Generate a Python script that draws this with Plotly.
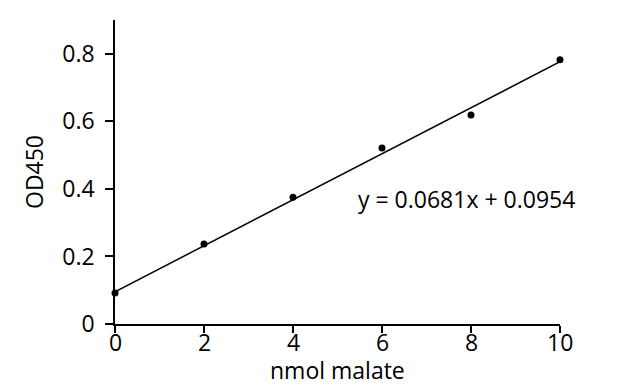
import plotly.graph_objects as go

nmol = [0, 2, 4, 6, 8, 10]
od450 = [0.092, 0.237, 0.375, 0.521, 0.619, 0.782]
slope = 0.0681
intercept = 0.0954
fit_x = [0, 10]
fit_y = [slope * x + intercept for x in fit_x]
x_ticks = [0, 2, 4, 6, 8, 10]
x_tick_labels = ["0", "2", "4", "6", "8", "10"]
y_ticks = [0, 0.2, 0.4, 0.6, 0.8]
y_tick_labels = ["0", "0.2", "0.4", "0.6", "0.8"]
x_title = "nmol malate"
y_title = "OD450"

FONT = "Open Sans, Liberation Sans, sans-serif"
FS = 23

fig = go.Figure()
fig.add_trace(go.Scatter(x=fit_x, y=fit_y, mode="lines",
                         line=dict(color="black", width=1.5), cliponaxis=False,
                         hoverinfo="skip"))
fig.add_trace(go.Scatter(x=nmol, y=od450, mode="markers",
                         marker=dict(color="black", size=7), cliponaxis=False))

fig.add_annotation(x=7.9, y=0.37, xref="x", yref="y",
                   text=f"y = {slope}x + {intercept}", showarrow=False,
                   xanchor="center", yanchor="middle",
                   font=dict(family=FONT, size=FS, color="black"))

# x tick labels placed via the x axis scale, slightly closer to the axis
for tv, tl in zip(x_ticks, x_tick_labels):
    fig.add_annotation(x=tv, y=-0.06, xref="x", yref="paper", text=tl,
                       showarrow=False, xanchor="center", yanchor="middle",
                       font=dict(family=FONT, size=FS, color="black"))

fig.add_annotation(x=0.5, y=-0.152, xref="paper", yref="paper",
                   text=x_title, showarrow=False,
                   xanchor="center", yanchor="middle",
                   font=dict(family=FONT, size=FS, color="black"))

fig.update_layout(
    width=640, height=391,
    margin=dict(l=107, r=88, t=12, b=75),
    paper_bgcolor="white", plot_bgcolor="white",
    showlegend=False,
    font=dict(family=FONT, size=FS, color="black"),
    xaxis=dict(range=[0, 10], tickvals=x_ticks, showticklabels=False,
               ticks="outside", ticklen=7,
               tickwidth=1.5, tickcolor="black", showline=True, linecolor="black",
               linewidth=1.5, showgrid=False, zeroline=False),
    yaxis=dict(range=[0, 0.9], tickvals=y_ticks, ticktext=y_tick_labels,
               ticks="outside", ticklen=8, tickwidth=1.5, tickcolor="black",
               showline=True, linecolor="black", linewidth=1.5, showgrid=False,
               zeroline=False, ticklabelstandoff=6,
               title=dict(text=y_title, standoff=12,
                          font=dict(family=FONT, size=FS))),
)

fig.write_html("out.html")
